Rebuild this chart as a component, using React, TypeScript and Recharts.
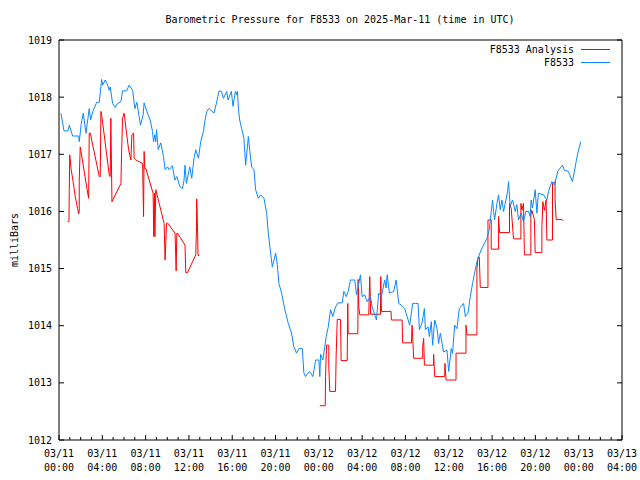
import { Line, LineChart, XAxis, YAxis } from "recharts";

// hours since 03/11 00:00 UTC, pressure in mb
const stationReadings: [number, number][] = [
	[0.18, 1017.72], [0.46, 1017.41], [0.83, 1017.41], [0.95, 1017.51], [1.26, 1017.32],
	[1.82, 1017.32], [1.87, 1017.22], [2.06, 1017.54], [2.24, 1017.72], [2.49, 1017.37],
	[2.79, 1017.8], [2.92, 1017.6], [3.11, 1017.74], [3.48, 1017.91], [3.72, 1017.91],
	[3.94, 1018.31], [4.03, 1018.21], [4.27, 1018.3], [4.49, 1018.21], [4.64, 1018.12],
	[4.73, 1018.18], [4.95, 1017.89], [5.19, 1017.82], [5.41, 1017.89], [5.72, 1017.92],
	[5.87, 1018.11], [6.24, 1018.11], [6.48, 1018.21], [6.8, 1018.12], [7.01, 1017.8],
	[7.19, 1017.91], [7.4, 1017.66], [7.53, 1017.51], [7.77, 1017.69], [7.86, 1017.9],
	[8.11, 1017.75], [8.42, 1017.6], [8.64, 1017.4], [8.73, 1017.22], [8.85, 1017.34],
	[8.94, 1017.22], [9.01, 1017.43], [9.16, 1017.08], [9.4, 1017.2], [9.5, 1017.11],
	[9.65, 1016.96], [9.8, 1016.73], [10.02, 1016.78], [10.17, 1016.73], [10.48, 1016.8],
	[10.7, 1016.55], [10.88, 1016.61], [11.18, 1016.43], [11.41, 1016.4], [11.55, 1016.55],
	[11.64, 1016.81], [11.77, 1016.49], [12.08, 1016.78], [12.26, 1016.58], [12.47, 1016.93],
	[12.63, 1017.08], [12.88, 1016.93], [13.09, 1017.22], [13.34, 1017.4], [13.49, 1017.6],
	[13.65, 1017.75], [13.86, 1017.8], [14.32, 1017.72], [14.57, 1017.92], [14.78, 1018.11],
	[15.0, 1018.1], [15.19, 1017.98], [15.49, 1018.1], [15.61, 1017.95], [15.92, 1018.1],
	[16.07, 1017.84], [16.29, 1018.1], [16.4, 1018.04], [16.48, 1018.1], [16.57, 1017.8],
	[16.69, 1017.6], [16.87, 1017.45], [17.08, 1017.28], [17.24, 1016.81], [17.49, 1017.31],
	[17.61, 1017.08], [17.79, 1016.78], [18.01, 1016.73], [18.16, 1016.38], [18.41, 1016.23],
	[18.62, 1016.29], [18.93, 1016.23], [19.18, 1015.97], [19.33, 1015.62], [19.48, 1015.38],
	[19.7, 1015.03], [20.01, 1015.27], [20.16, 1015.07], [20.31, 1014.74], [20.56, 1014.57],
	[20.86, 1014.28], [21.18, 1014.04], [21.48, 1013.87], [21.69, 1013.63], [21.94, 1013.52],
	[22.16, 1013.6], [22.47, 1013.6], [22.62, 1013.17], [22.77, 1013.11], [23.14, 1013.2],
	[23.45, 1013.11], [23.7, 1013.4], [24.0, 1013.4], [24.09, 1013.11], [24.16, 1013.5],
	[24.37, 1013.4], [24.55, 1013.63], [24.68, 1013.81], [24.87, 1013.98], [25.08, 1014.28],
	[25.29, 1014.16], [25.54, 1014.33], [25.79, 1014.4], [26.16, 1014.4], [26.31, 1014.6],
	[26.53, 1014.51], [26.71, 1014.6], [26.92, 1014.8], [27.32, 1014.8], [27.48, 1014.54],
	[27.84, 1014.89], [28.0, 1014.51], [28.24, 1014.54], [28.46, 1014.42], [28.77, 1014.51],
	[28.92, 1014.33], [29.32, 1014.1], [29.53, 1014.57], [29.78, 1014.51], [30.08, 1014.8],
	[30.21, 1014.66], [30.31, 1014.89], [30.52, 1014.57], [30.91, 1014.6], [31.14, 1014.8],
	[31.38, 1014.39], [31.62, 1014.36], [31.93, 1014.3], [32.15, 1014.16], [32.39, 1014.01],
	[32.67, 1014.39], [32.92, 1014.39], [33.16, 1014.39], [33.29, 1013.93], [33.53, 1014.05],
	[33.75, 1014.3], [33.84, 1013.93], [34.09, 1013.98], [34.21, 1013.81], [34.39, 1014.07],
	[34.51, 1013.66], [34.7, 1014.1], [34.92, 1013.95], [35.06, 1013.69], [35.22, 1013.87],
	[35.52, 1013.54], [35.84, 1013.57], [35.93, 1013.34], [35.99, 1013.2], [36.23, 1013.6],
	[36.35, 1013.51], [36.54, 1014.01], [36.76, 1013.95], [36.97, 1014.3], [37.37, 1014.39],
	[37.53, 1014.16], [37.77, 1014.22], [37.99, 1014.51], [38.2, 1014.74], [38.45, 1014.98],
	[38.6, 1015.12], [38.91, 1015.29], [39.21, 1015.41], [39.53, 1015.53], [39.74, 1015.68],
	[40.04, 1016.2], [40.23, 1015.85], [40.45, 1016.14], [40.6, 1016.29], [40.75, 1016.03],
	[40.91, 1016.2], [41.06, 1016.0], [41.28, 1016.2], [41.43, 1016.35], [41.52, 1016.52],
	[41.67, 1016.09], [41.89, 1016.2], [42.14, 1016.0], [42.29, 1016.12], [42.44, 1015.85],
	[42.69, 1015.97], [42.9, 1015.82], [43.12, 1016.0], [43.36, 1016.0], [43.52, 1015.91],
	[43.61, 1016.2], [43.73, 1016.06], [43.98, 1016.38], [44.14, 1015.97], [44.28, 1016.32],
	[44.75, 1016.29], [45.06, 1016.2], [45.21, 1016.35], [45.52, 1016.52], [45.76, 1016.46],
	[46.07, 1016.7], [46.5, 1016.81], [46.68, 1016.72], [47.05, 1016.7], [47.42, 1016.52],
	[47.6, 1016.7], [47.73, 1016.84], [47.92, 1017.02], [48.19, 1017.22],
];

// analysis values, null marks the gap in the record
const analysisReadings: [number, number | null][] = [
	[0.8, 1015.82], [0.92, 1015.82], [0.95, 1016.38], [0.99, 1016.99], [1.04, 1016.9],
	[1.11, 1016.75], [1.32, 1016.5], [1.5, 1016.26], [1.72, 1016.05], [1.82, 1015.96],
	[1.87, 1016.0], [1.87, 1016.55], [1.96, 1017.13], [2.03, 1017.05], [2.65, 1016.32],
	[2.74, 1016.23], [2.79, 1017.37], [2.89, 1017.37], [3.72, 1016.61], [3.81, 1016.61],
	[3.87, 1017.75], [3.96, 1017.66], [4.64, 1016.64], [4.73, 1016.61], [4.79, 1017.63],
	[4.89, 1016.17], [5.72, 1016.49], [5.78, 1017.02], [5.87, 1017.63], [6.02, 1017.72],
	[6.18, 1017.46], [6.43, 1017.08], [6.64, 1016.9], [6.73, 1017.34], [6.89, 1017.37],
	[6.94, 1016.93], [7.1, 1016.9], [7.72, 1016.84], [7.81, 1015.91], [7.86, 1017.05],
	[7.93, 1016.75], [8.02, 1016.75], [8.69, 1016.32], [8.76, 1015.56], [8.82, 1016.32],
	[8.85, 1015.56], [8.94, 1016.38], [9.71, 1015.79], [9.8, 1015.15], [9.93, 1015.79],
	[10.02, 1015.8], [10.72, 1015.62], [10.82, 1014.96], [10.88, 1015.62], [10.94, 1015.62],
	[11.64, 1015.41], [11.71, 1014.93], [11.87, 1014.93], [12.63, 1015.24], [12.7, 1015.73],
	[12.72, 1016.22], [12.79, 1015.73], [12.84, 1015.23], [12.97, 1015.23],
	[18.0, null],
	[24.09, 1012.6], [24.59, 1012.6], [24.62, 1013.11], [24.71, 1013.66], [24.92, 1013.66],
	[24.92, 1013.28], [25.01, 1012.85], [25.54, 1012.85], [25.6, 1013.49], [25.7, 1014.11],
	[26.0, 1014.11], [26.06, 1013.39], [26.62, 1013.39], [26.67, 1014.39], [26.71, 1013.86],
	[27.6, 1013.86], [27.63, 1014.81], [27.69, 1014.33], [27.78, 1014.19], [28.61, 1014.19],
	[28.7, 1014.86], [28.77, 1014.39], [28.77, 1014.2], [29.69, 1014.2], [29.72, 1014.86],
	[29.78, 1014.25], [30.67, 1014.25], [30.7, 1014.1], [31.69, 1014.1], [31.74, 1013.7],
	[32.55, 1013.7], [32.61, 1014.01], [32.67, 1013.78], [32.76, 1013.43], [33.59, 1013.43],
	[33.59, 1013.63], [33.68, 1013.78], [33.75, 1013.31], [34.6, 1013.31], [34.6, 1013.5],
	[34.7, 1013.11], [35.62, 1013.11], [35.65, 1013.34], [35.75, 1013.05], [36.67, 1013.05],
	[36.67, 1013.52], [37.59, 1013.52], [37.59, 1014.01], [37.68, 1013.84], [38.6, 1013.84],
	[38.6, 1015.0], [38.7, 1015.2], [38.82, 1015.2], [38.91, 1014.67], [39.62, 1014.67],
	[39.62, 1015.85], [39.92, 1015.85], [39.92, 1015.34], [40.6, 1015.34], [40.6, 1015.91],
	[40.69, 1015.63], [41.61, 1015.63], [41.61, 1016.14], [41.77, 1016.05], [41.98, 1015.52],
	[42.66, 1015.52], [42.66, 1016.14], [42.75, 1016.02], [42.9, 1016.14], [42.99, 1015.24],
	[43.58, 1015.24], [43.58, 1015.94], [43.67, 1016.02], [43.91, 1015.86], [43.98, 1015.28],
	[44.6, 1015.28], [44.6, 1015.72], [44.69, 1016.17], [44.84, 1016.02], [44.99, 1016.2],
	[45.06, 1015.5], [45.58, 1015.5], [45.58, 1016.49], [45.82, 1016.52], [45.82, 1016.21],
	[45.92, 1015.86], [46.44, 1015.86], [46.59, 1015.84],
];

const hourTicks = Array.from({ length: 53 }, (_, i) => i);
const pressureTicks = [1012, 1013, 1014, 1015, 1016, 1017, 1018, 1019];
const tickDates = ["03/11", "03/11", "03/11", "03/11", "03/11", "03/11", "03/12", "03/12", "03/12", "03/12", "03/12", "03/12", "03/13", "03/13"];
const tickTimes = ["00:00", "04:00", "08:00", "12:00", "16:00", "20:00", "00:00", "04:00", "08:00", "12:00", "16:00", "20:00", "00:00", "04:00"];

const FONT = "'DejaVu Sans Mono', monospace";
const BLUE = "#0a88ff";
const RED = "#ff0000";

const stationData = stationReadings.map(([t, v]) => ({ t, v }));
const analysisData = analysisReadings.map(([t, v]) => ({ t, v }));

const BottomTick = (props: any) => {
	const { x, y, payload } = props;
	const major = payload.value % 4 === 0;
	const idx = payload.value / 4;
	return (
		<g>
			<line x1={x} x2={x} y1={y} y2={y - (major ? 5 : 3)} stroke="#000" />
			{major ? (
				<text x={x} y={y + 17} textAnchor="middle" fontFamily={FONT} fontSize={10} fill="#000">
					<tspan x={x}>{tickDates[idx]}</tspan>
					<tspan x={x} dy={14}>{tickTimes[idx]}</tspan>
				</text>
			) : null}
		</g>
	);
};

const TopTick = (props: any) => {
	const { x, y, payload } = props;
	const major = payload.value % 4 === 0;
	return <line x1={x} x2={x} y1={y} y2={y + (major ? 5 : 3)} stroke="#000" />;
};

const LeftTick = (props: any) => {
	const { x, y, payload } = props;
	return (
		<g>
			<line x1={x} x2={x + 5} y1={y} y2={y} stroke="#000" />
			<text x={x - 7} y={y} dy="0.35em" textAnchor="end" fontFamily={FONT} fontSize={10} fill="#000">
				{payload.value}
			</text>
		</g>
	);
};

const RightTick = (props: any) => {
	const { x, y } = props;
	return <line x1={x} x2={x - 5} y1={y} y2={y} stroke="#000" />;
};

export default function App() {
	return (
		<div style={{ position: "absolute", left: 0, top: 0, width: 640, height: 480, background: "#fff" }}>
			<LineChart width={640} height={480} margin={{ top: 0, right: 0, bottom: 0, left: 0 }}>
				<XAxis
					xAxisId="bottom"
					type="number"
					dataKey="t"
					domain={[0, 52]}
					ticks={hourTicks}
					interval={0}
					height={40}
					tickSize={0}
					tickMargin={0}
					tickLine={false}
					tick={<BottomTick />}
					axisLine={{ stroke: "#000" }}
					allowDataOverflow
				/>
				<XAxis
					xAxisId="top"
					orientation="top"
					type="number"
					domain={[0, 52]}
					ticks={hourTicks}
					interval={0}
					height={40}
					tickSize={0}
					tickMargin={0}
					tickLine={false}
					tick={<TopTick />}
					axisLine={{ stroke: "#000" }}
					allowDataOverflow
				/>
				<YAxis
					yAxisId="left"
					type="number"
					domain={[1012, 1019]}
					ticks={pressureTicks}
					interval={0}
					width={59}
					tickSize={0}
					tickMargin={0}
					tickLine={false}
					tick={<LeftTick />}
					axisLine={{ stroke: "#000" }}
					allowDataOverflow
				/>
				<YAxis
					yAxisId="right"
					orientation="right"
					type="number"
					domain={[1012, 1019]}
					ticks={pressureTicks}
					interval={0}
					width={18}
					tickSize={0}
					tickMargin={0}
					tickLine={false}
					tick={<RightTick />}
					axisLine={{ stroke: "#000" }}
					allowDataOverflow
				/>
				<Line
					xAxisId="bottom"
					yAxisId="left"
					data={analysisData}
					dataKey="v"
					type="linear"
					stroke={RED}
					strokeWidth={1}
					dot={false}
					connectNulls={false}
					isAnimationActive={false}
				/>
				<Line
					xAxisId="bottom"
					yAxisId="left"
					data={stationData}
					dataKey="v"
					type="linear"
					stroke={BLUE}
					strokeWidth={1}
					dot={false}
					isAnimationActive={false}
				/>
				<text x={340} y={23} textAnchor="middle" fontFamily={FONT} fontSize={10} fill="#000">
					Barometric Pressure for F8533 on 2025-Mar-11 (time in UTC)
				</text>
				<text transform="translate(14,240) rotate(-90)" textAnchor="middle" dominantBaseline="central" fontFamily={FONT} fontSize={10} fill="#000">
					milliBars
				</text>
				<text x={574} y={53} textAnchor="end" fontFamily={FONT} fontSize={10} fill="#000">
					F8533 Analysis
				</text>
				<line x1={581} x2={610} y1={49.5} y2={49.5} stroke={RED} />
				<text x={574} y={66} textAnchor="end" fontFamily={FONT} fontSize={10} fill="#000">
					F8533
				</text>
				<line x1={581} x2={610} y1={62.5} y2={62.5} stroke={BLUE} />
			</LineChart>
		</div>
	);
}
